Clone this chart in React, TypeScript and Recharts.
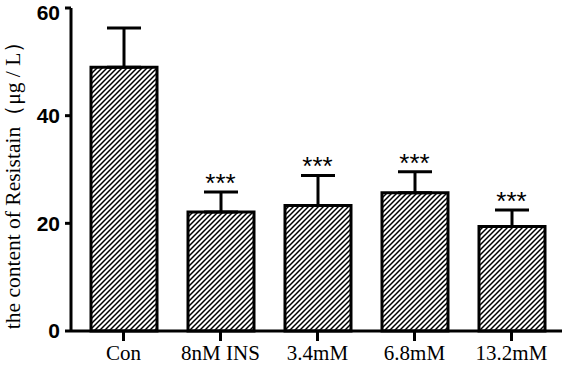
import { ComposedChart, Bar, Line, XAxis, YAxis, ErrorBar, LabelList } from 'recharts';

const groups = ['Con', '8nM INS', '3.4mM', '6.8mM', '13.2mM'];
const means = [49, 22.1, 23.3, 25.7, 19.4];
const sems = [7.3, 3.7, 5.6, 3.9, 3.1];
const marks = ['', '***', '***', '***', '***'];
const yTicks = [0, 20, 40, 60];
const yTitle = 'the content of Resistain（μg / L）';

const data = groups.map((g, i) => ({
  group: g,
  mean: means[i],
  err: [0, sems[i]],
  top: means[i] + sems[i],
  mark: marks[i],
}));

const serif = '"Liberation Serif", "Times New Roman", serif';
const sans = '"Liberation Sans", Arial, sans-serif';

function StarLabel(props: any) {
  const { x, y, value } = props;
  if (!value) return null;
  return (
    <text x={x} y={y} textAnchor="middle" fontFamily={sans} fontSize={26} fill="#000">
      {value}
    </text>
  );
}

function YTitle() {
  // rotated axis title, left of the tick labels
  return (
    <text
      x={0}
      y={0}
      transform="translate(20,180) rotate(-90)"
      textAnchor="middle"
      fontFamily={serif}
      fontSize={21.5}
      fill="#000"
    >
      {yTitle}
    </text>
  );
}

export default function App() {
  return (
    <div style={{ position: 'absolute', left: 0, top: 0, width: 562, height: 366, background: '#fff' }}>
      <ComposedChart width={562} height={366} data={data} margin={{ top: 8, right: 0, bottom: 0, left: 0 }}>
        <defs>
          <pattern id="hatch" width="5" height="5" patternUnits="userSpaceOnUse">
            <rect width="5" height="5" fill="#fff" />
            <path d="M0,5 L5,0 M-1,1 L1,-1 M4,6 L6,4" stroke="#000" strokeWidth={1.5} />
          </pattern>
        </defs>
        <XAxis
          dataKey="group"
          height={35}
          padding={{ left: 4, right: 2 }}
          axisLine={{ stroke: '#000', strokeWidth: 3 }}
          tickLine={{ stroke: '#000', strokeWidth: 3 }}
          tickSize={10}
          tickMargin={4}
          tick={{ fill: '#000', fontFamily: serif, fontSize: 21 }}
          interval={0}
        />
        <YAxis
          width={71}
          domain={[0, 60]}
          ticks={yTicks}
          axisLine={{ stroke: '#000', strokeWidth: 3 }}
          tickLine={{ stroke: '#000', strokeWidth: 3 }}
          tickSize={6}
          tickMargin={5}
          tick={{ fill: '#000', fontFamily: sans, fontSize: 21, fontWeight: 'bold' }}
          label={<YTitle />}
        />
        <Bar dataKey="mean" barSize={66} fill="url(#hatch)" stroke="#000" strokeWidth={3} isAnimationActive={false}>
          <ErrorBar dataKey="err" width={17} stroke="#000" strokeWidth={3} direction="y" />
        </Bar>
        <Line dataKey="top" stroke="none" dot={false} activeDot={false} isAnimationActive={false}>
          <LabelList dataKey="mark" content={<StarLabel />} />
        </Line>
      </ComposedChart>
    </div>
  );
}
